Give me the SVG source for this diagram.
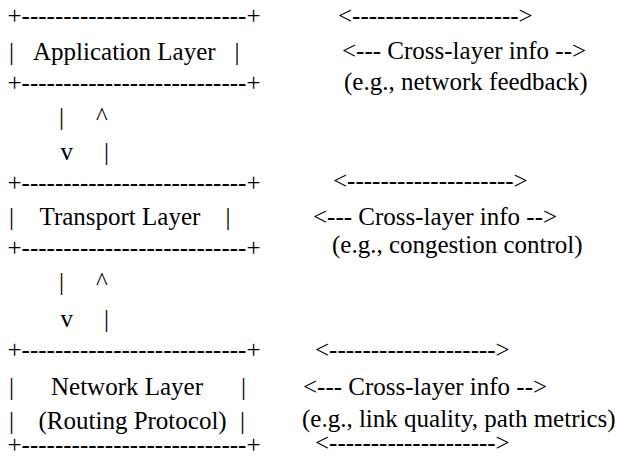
<svg xmlns="http://www.w3.org/2000/svg" width="618" height="457" viewBox="0 0 618 457">
<style>
.t { font-family: 'Liberation Serif', 'DejaVu Serif', 'Times New Roman', Times, serif; font-size: 25px; fill: #000; }
</style>
<rect width="618" height="457" fill="#fff"/>
<g class="t" font-family="Liberation Serif, serif">
<g id="application-layer">
<text x="7.5" y="24">+---------------------------+</text>
<text x="9" y="60">|</text>
<text x="33" y="60">Application Layer</text>
<text x="234.5" y="60">|</text>
<text x="7.5" y="91">+---------------------------+</text>
</g>
<g id="transport-layer">
<text x="7.5" y="191">+---------------------------+</text>
<text x="9" y="225">|</text>
<text x="39.5" y="225">Transport Layer</text>
<text x="225.5" y="225">|</text>
<text x="7.5" y="256">+---------------------------+</text>
</g>
<g id="network-layer">
<text x="7.5" y="358">+---------------------------+</text>
<text x="9" y="395">|</text>
<text x="51" y="395">Network Layer</text>
<text x="241" y="395">|</text>
<text x="9" y="429">|</text>
<text x="38.5" y="429">(Routing Protocol)</text>
<text x="240" y="429">|</text>
<text x="7.5" y="453">+---------------------------+</text>
</g>
<g id="connectors">
<text x="59" y="125">|</text>
<text x="96" y="125">^</text>
<text x="60.5" y="160">v</text>
<text x="104" y="160">|</text>
<text x="59" y="290">|</text>
<text x="96" y="290">^</text>
<text x="60.5" y="327">v</text>
<text x="104" y="327">|</text>
</g>
<g id="cross-layer-application">
<text x="338" y="24">&lt;--------------------&gt;</text>
<text x="342" y="59">&lt;--- Cross-layer info --&gt;</text>
<text x="344" y="90">(e.g., network feedback)</text>
</g>
<g id="cross-layer-transport">
<text x="333" y="189">&lt;--------------------&gt;</text>
<text x="313" y="225">&lt;--- Cross-layer info --&gt;</text>
<text x="332" y="253">(e.g., congestion control)</text>
</g>
<g id="cross-layer-network">
<text x="315" y="358">&lt;--------------------&gt;</text>
<text x="303" y="395">&lt;--- Cross-layer info --&gt;</text>
<text x="302" y="427">(e.g., link quality, path metrics)</text>
<text x="315" y="451">&lt;--------------------&gt;</text>
</g>
</g>
</svg>
